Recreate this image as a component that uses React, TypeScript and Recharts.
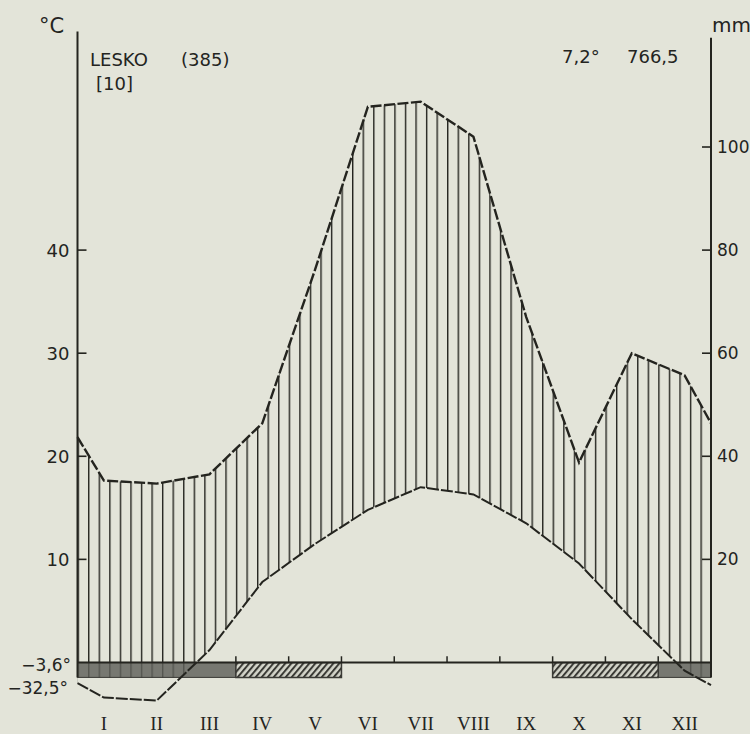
import React from "react";
import {
  ComposedChart,
  Area,
  Line,
  XAxis,
  YAxis,
  ReferenceArea,
  ReferenceLine,
} from "recharts";

// Walter–Lieth climate diagram, Lesko
const months = ["I", "II", "III", "IV", "V", "VI", "VII", "VIII", "IX", "X", "XI", "XII"];
const temperature = [-3.4, -3.7, 1.2, 7.8, 11.5, 14.8, 17.0, 16.3, 13.5, 9.6, 4.2, -0.8];
const precipitation = [35.3, 34.7, 36.5, 46.4, 76.2, 107.8, 108.8, 102.0, 67.0, 38.8, 60.0, 55.7];
// values at the left / right border of the diagram
const edgeTemperature = [-2.0, -2.2];
const edgePrecipitation = [43.7, 46.4];
// month spans (start, end) of the frost bars under the zero line
const frostPeriods = [[0, 3], [11, 12]]; // solid bar
const probableFrostPeriods = [[3, 5], [9, 11]]; // hatched bar
const monthBoundaries = [3, 4, 5, 6, 7, 8, 9, 10, 11];
const tempTicks = [10, 20, 30, 40];
const precipTicks = [20, 40, 60, 80, 100];

const data = [
  { x: 0, temp: edgeTemperature[0], precip: edgePrecipitation[0] },
  ...months.map((m, i) => ({ x: i + 0.5, temp: temperature[i], precip: precipitation[i] })),
  { x: 12, temp: edgeTemperature[1], precip: edgePrecipitation[1] },
];

const BG = "#e3e4d9";
const INK = "#24241f";
const FONT = "'DejaVu Sans', sans-serif";
const BAR_DEPTH = -1.45;

const LeftTick = (props: any) => {
  const { x, y, payload } = props;
  return (
    <g>
      <line x1={x} x2={x + 9} y1={y} y2={y} stroke={INK} strokeWidth={1.6} />
      <text x={x - 8} y={y} dy="0.36em" textAnchor="end" fontSize={18} fontFamily={FONT} fill={INK}>
        {payload.value}
      </text>
    </g>
  );
};

const RightTick = (props: any) => {
  const { x, y, payload } = props;
  return (
    <g>
      <line x1={x - 9} x2={x} y1={y} y2={y} stroke={INK} strokeWidth={1.6} />
      <text x={x + 6} y={y} dy="0.36em" textAnchor="start" fontSize={17} fontFamily={FONT} fill={INK}>
        {payload.value}
      </text>
    </g>
  );
};

export default function App() {
  const txt = { fontFamily: FONT, fill: INK };
  return (
    <div style={{ position: "absolute", left: 0, top: 0, width: 750, height: 734, background: BG }}>
      <ComposedChart
        width={750}
        height={734}
        data={data}
        margin={{ top: 23.3, right: 0, bottom: 0, left: 0.5 }}
      >
        <defs>
          <pattern id="vhatch" patternUnits="userSpaceOnUse" x={77.5} y={0} width={633.5 / 60} height={10}>
            <line x1={0.7} x2={0.7} y1={0} y2={10} stroke={INK} strokeWidth={1.4} />
          </pattern>
          <pattern id="diag" patternUnits="userSpaceOnUse" width={4.6} height={4.6} patternTransform="rotate(40)">
            <rect width={4.6} height={4.6} fill="#d4d5ca" />
            <line x1={1} y1={0} x2={1} y2={4.6} stroke="#3a3a35" strokeWidth={2} />
          </pattern>
        </defs>
        <XAxis
          dataKey="x"
          type="number"
          domain={[0, 12]}
          ticks={months.map((m, i) => i + 0.5)}
          tickFormatter={(v) => months[Math.floor(v)]}
          axisLine={false}
          tickLine={false}
          tickSize={0}
          tickMargin={3}
          height={20}
          tick={{ fontSize: 19, fontFamily: "'Liberation Serif', serif", fill: INK }}
        />
        <YAxis
          yAxisId="t"
          orientation="left"
          domain={[-5, 62]}
          ticks={tempTicks}
          width={77}
          axisLine={false}
          tickLine={false}
          tickSize={0}
          tickMargin={0}
          tick={<LeftTick />}
        />
        <YAxis
          yAxisId="p"
          orientation="right"
          domain={[-10, 124]}
          ticks={precipTicks}
          width={39}
          axisLine={false}
          tickLine={false}
          tickSize={0}
          tickMargin={0}
          tick={<RightTick />}
        />
        <Area
          yAxisId="p"
          dataKey={(d: any) => [d.temp * 2, d.precip]}
          type="linear"
          fill="url(#vhatch)"
          fillOpacity={1}
          stroke="none"
          isAnimationActive={false}
        />
        <ReferenceArea yAxisId="t" x1={0} x2={12} y1={-5} y2={BAR_DEPTH} fill={BG} fillOpacity={1} stroke="none" />
        {frostPeriods.map(([a, b]) => (
          <ReferenceArea
            key={"f" + a}
            yAxisId="t"
            x1={a}
            x2={b}
            y1={BAR_DEPTH}
            y2={0}
            fill="#5f605a"
            fillOpacity={0.82}
            stroke="#3a3a35"
            strokeWidth={1}
          />
        ))}
        {probableFrostPeriods.map(([a, b]) => (
          <ReferenceArea
            key={"p" + a}
            yAxisId="t"
            x1={a}
            x2={b}
            y1={BAR_DEPTH}
            y2={0}
            fill="url(#diag)"
            fillOpacity={1}
            stroke="#3a3a35"
            strokeWidth={1.5}
          />
        ))}
        <ReferenceLine yAxisId="t" y={0} stroke={INK} strokeWidth={2} />
        {monthBoundaries.map((b) => (
          <ReferenceLine
            key={"b" + b}
            yAxisId="t"
            segment={[{ x: b, y: 0 }, { x: b, y: 0.6 }]}
            stroke={INK}
            strokeWidth={1.5}
          />
        ))}
        <ReferenceLine yAxisId="t" segment={[{ x: 0, y: BAR_DEPTH }, { x: 0, y: 61.2 }]} stroke={INK} strokeWidth={2} />
        <ReferenceLine yAxisId="t" segment={[{ x: 12, y: BAR_DEPTH }, { x: 12, y: 60.6 }]} stroke={INK} strokeWidth={2} />
        <Line
          yAxisId="p"
          dataKey="precip"
          type="linear"
          stroke={INK}
          strokeWidth={2.4}
          strokeDasharray="11 2.5"
          dot={false}
          isAnimationActive={false}
        />
        <Line
          yAxisId="t"
          dataKey="temp"
          type="linear"
          stroke={INK}
          strokeWidth={2}
          strokeDasharray="12 2"
          dot={false}
          isAnimationActive={false}
        />
      </ComposedChart>
      <svg width={750} height={734} style={{ position: "absolute", left: 0, top: 0, pointerEvents: "none" }}>
        <text x={39} y={33} fontSize={21} {...txt}>°C</text>
        <text x={712} y={32} fontSize={20} {...txt}>mm</text>
        <text x={90} y={66} fontSize={18} {...txt}>LESKO</text>
        <text x={181} y={66} fontSize={18} {...txt}>(385)</text>
        <text x={96} y={90} fontSize={18} {...txt}>[10]</text>
        <text x={562} y={63} fontSize={18} {...txt}>7,2°</text>
        <text x={627} y={63} fontSize={18} {...txt}>766,5</text>
        <text x={71} y={671} fontSize={17} textAnchor="end" {...txt}>−3,6°</text>
        <text x={68} y={694} fontSize={17} textAnchor="end" {...txt}>−32,5°</text>
      </svg>
    </div>
  );
}
